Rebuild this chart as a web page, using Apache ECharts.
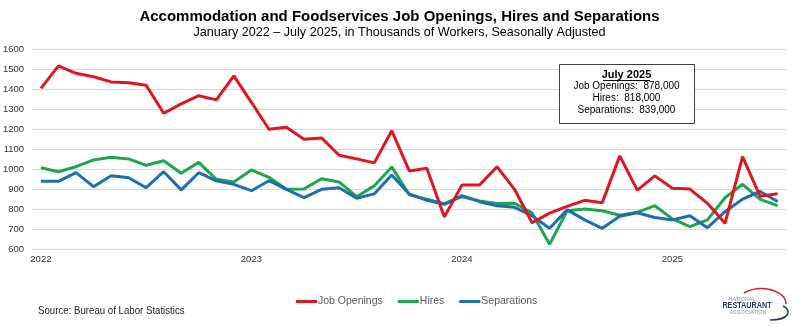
<!DOCTYPE html>
<html>
<head>
<meta charset="utf-8">
<script src="https://cdn.jsdelivr.net/npm/echarts@6/dist/echarts.min.js"></script>
<style>
html,body{margin:0;padding:0;background:#fff;}
#chart{width:799px;height:327px;}
</style>
</head>
<body>
<div id="chart"></div>
<script>
// ---- data ----
const years = ['2022', '2023', '2024', '2025'];
const monthNames = ['Jan','Feb','Mar','Apr','May','Jun','Jul','Aug','Sep','Oct','Nov','Dec'];
const categories = [];
years.forEach(function (y) {
  monthNames.forEach(function (m) {
    if (categories.length < 43) categories.push(m + ' ' + y);
  });
});
const tickLabels = ['2022', '2023', '2024', '2025'];

const jobOpenings = [1405,1517,1480,1463,1437,1433,1420,1280,1327,1368,1347,1467,1335,
  1200,1210,1150,1157,1070,1052,1032,1193,992,1005,762,
  921,921,1013,900,733,781,815,845,833,1067,896,967,
  905,901,830,730,1063,865,878];
const hires = [1008,988,1013,1047,1060,1052,1020,1043,980,1035,950,937,997,
  960,900,902,953,937,863,917,1012,873,850,828,
  863,842,829,830,782,625,793,802,793,770,785,818,
  752,713,747,858,925,850,818];
const separations = [940,940,983,913,968,958,908,988,897,983,942,925,893,
  943,900,858,900,908,855,877,972,877,845,825,
  868,838,818,810,768,705,797,747,705,765,783,759,
  747,768,708,788,851,889,839];

const seriesNames = ['Job Openings', 'Hires', 'Separations'];
const colors = ['#e0161e', '#1ea54d', '#1f6db3'];

const FONT = "'Liberation Sans', Arial, sans-serif";

const chart = echarts.init(document.getElementById('chart'), null, {renderer: 'canvas'});
const option = {
  backgroundColor: '#ffffff',
  animation: false,
  title: {
    text: 'Accommodation and Foodservices Job Openings, Hires and Separations',
    subtext: 'January 2022 \u2013 July 2025, in Thousands of Workers, Seasonally Adjusted',
    left: 'center',
    top: 8.5,
    itemGap: 0,
    padding: 0,
    textStyle: {fontFamily: FONT, fontSize: 15, fontWeight: 'bold', color: '#000', lineHeight: 17},
    subtextStyle: {fontFamily: FONT, fontSize: 12.6, color: '#000', lineHeight: 14}
  },
  legend: {
    data: seriesNames,
    left: 296,
    top: 296,
    padding: 0,
    icon: 'rect',
    itemWidth: 21,
    itemHeight: 3,
    itemGap: 15,
    textStyle: {fontFamily: FONT, fontSize: 10.5, color: '#595959', padding: [0, 0, 0, -4]}
  },
  grid: {left: 31, right: 12.6, top: 49.3, bottom: 77.7, containLabel: false},
  xAxis: {
    type: 'category',
    data: categories,
    boundaryGap: true,
    axisLine: {show: false},
    axisTick: {show: false},
    splitLine: {show: false},
    axisLabel: {
      interval: function (i) { return i % 12 === 0; },
      formatter: function (v, i) { return tickLabels[Math.floor(i / 12)]; },
      fontFamily: FONT,
      fontSize: 9.5,
      color: '#333',
      margin: 5
    }
  },
  yAxis: {
    type: 'value',
    min: 600,
    max: 1600,
    interval: 100,
    axisLine: {show: false},
    axisTick: {show: false},
    splitLine: {lineStyle: {color: '#d9d9d9', width: 1}},
    axisLabel: {fontFamily: FONT, fontSize: 9.5, color: '#333', margin: 8,
      formatter: function (v) { return String(v); }}
  },
  series: [
    {name: seriesNames[0], type: 'line', data: jobOpenings, symbol: 'none', color: colors[0], lineStyle: {width: 3, color: colors[0]}, z: 3},
    {name: seriesNames[1], type: 'line', data: hires, symbol: 'none', color: colors[1], lineStyle: {width: 3, color: colors[1]}, z: 2},
    {name: seriesNames[2], type: 'line', data: separations, symbol: 'none', color: colors[2], lineStyle: {width: 3, color: colors[2]}, z: 2}
  ],
  graphic: [
    // annotation box
    {type: 'rect', shape: {x: 559.5, y: 64.5, width: 135, height: 59}, style: {fill: '#fff', stroke: '#404040', lineWidth: 1}, z: 10},
    {type: 'text', x: 626.5, y: 74.5, style: {text: 'July 2025', font: 'bold 11px ' + FONT, fill: '#000', align: 'center', verticalAlign: 'middle'}, z: 11},
    {type: 'line', shape: {x1: 603, y1: 80.5, x2: 650, y2: 80.5}, style: {stroke: '#000', lineWidth: 1}, z: 11},
    {type: 'text', x: 626.5, y: 86.5, style: {text: 'Job Openings:  878,000', font: '10px ' + FONT, fill: '#000', align: 'center', verticalAlign: 'middle'}, z: 11},
    {type: 'text', x: 626.5, y: 98.5, style: {text: 'Hires:  818,000', font: '10px ' + FONT, fill: '#000', align: 'center', verticalAlign: 'middle'}, z: 11},
    {type: 'text', x: 626.5, y: 110.7, style: {text: 'Separations:  839,000', font: '10px ' + FONT, fill: '#000', align: 'center', verticalAlign: 'middle'}, z: 11},
    // source
    {type: 'text', x: 38, y: 311, scaleX: 0.84, style: {text: 'Source: Bureau of Labor Statistics', font: '11.5px ' + FONT, fill: '#222', align: 'left', verticalAlign: 'middle'}},
    // logo
    {type: 'text', x: 742, y: 299, style: {text: 'NATIONAL', font: '5.5px ' + FONT, fill: '#8a8f9a', align: 'center', verticalAlign: 'middle'}},
    {type: 'text', x: 747, y: 305.5, scaleX: 0.85, style: {text: 'RESTAURANT', font: 'bold 8.5px ' + FONT, fill: '#2b3a67', align: 'center', verticalAlign: 'middle'}},
    {type: 'text', x: 748, y: 312.5, style: {text: 'ASSOCIATION', font: '5.5px ' + FONT, fill: '#8a8f9a', align: 'center', verticalAlign: 'middle'}},
    {type: 'bezierCurve', shape: {x1: 744, y1: 293, x2: 786, y2: 304, cpx1: 760, cpy1: 284, cpx2: 786, cpy2: 290}, style: {stroke: '#d7263d', lineWidth: 1.6, fill: 'none'}},
    {type: 'bezierCurve', shape: {x1: 783, y1: 306, x2: 770, y2: 320, cpx1: 792, cpy1: 310, cpx2: 790, cpy2: 320}, style: {stroke: '#2b3a67', lineWidth: 1.6, fill: 'none'}}
  ]
};
chart.setOption(option);
</script>
</body>
</html>
